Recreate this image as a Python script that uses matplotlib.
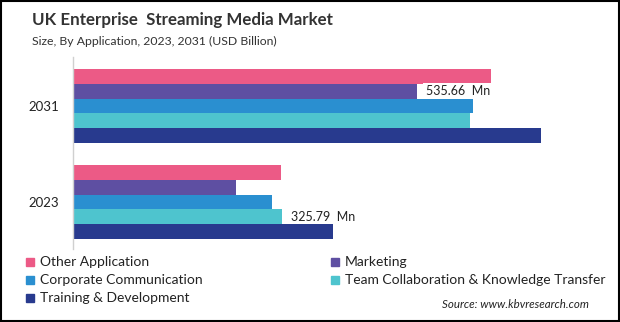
import matplotlib
matplotlib.use("Agg")
import matplotlib.pyplot as plt
from matplotlib.patches import Rectangle

plt.rcParams['font.family'] = ['Lato', 'DejaVu Sans']

years = ["2023", "2031"]
segments = ["Other Application", "Marketing", "Corporate Communication",
            "Team Collaboration & Knowledge Transfer", "Training & Development"]
values_2023 = [324, 255, 310, 325.79, 406]
values_2031 = [652, 535.66, 624, 619, 730]
colors = ["#EC5A86", "#5E4FA2", "#2A8FD0", "#4EC4CE", "#283A8E"]

fig = plt.figure(figsize=(6.2, 3.22), dpi=100)
ax = fig.add_axes([0.1174, 0.2267, 0.85, 0.5963])

bar_h = 0.153
for i, seg in enumerate(segments):
    off = (2 - i) * bar_h
    ax.barh([0 + off, 1 + off], [values_2023[i], values_2031[i]], height=bar_h,
            color=colors[i], label=seg)

# value labels
ax.text(values_2031[1] + 14, 1 + bar_h, "535.66  Mn", va="center", ha="left",
        fontsize=9, color="#222222",
        bbox=dict(facecolor="white", edgecolor="none", pad=1.5))
ax.text(values_2023[3] + 14, 0 - bar_h, "325.79  Mn", va="center", ha="left",
        fontsize=9, color="#222222")

ax.set_xlim(0, 821)
ax.set_ylim(-0.49, 1.51)
ax.set_yticks([0, 1])
ax.set_yticklabels(years, fontsize=9.5, color="#222222")
ax.tick_params(axis="y", length=0, pad=10)
ax.set_xticks([])
for s in ["top", "right", "bottom"]:
    ax.spines[s].set_visible(False)
ax.spines["left"].set_color("#d0d0d0")
ax.spines["left"].set_linewidth(1)

fig.text(32 / 620, 1 - 20 / 322, "UK Enterprise  Streaming Media Market",
         fontsize=12.2, fontweight="bold", color="#333333", va="center")
fig.text(32 / 620, 1 - 41 / 322, "Size, By Application, 2023, 2031 (USD Billion)",
         fontsize=8.8, color="#333333", va="center")

# legend
handles, labels = ax.get_legend_handles_labels()
leg_pos = [(30, 262), (335, 262), (30, 280), (335, 280), (30, 298)]
for (x, y), h, lab in zip(leg_pos, handles, labels):
    fig.patches.append(Rectangle(((x - 4) / 620, 1 - (y + 4) / 322), 8 / 620, 8 / 322,
                                 transform=fig.transFigure, color=h.patches[0].get_facecolor()))
    fig.text((x + 10) / 620, 1 - y / 322, lab, fontsize=10, color="#222222", va="center")

fig.text(589 / 620, 1 - 304 / 322, "Source: www.kbvresearch.com", fontsize=8.3,
         style="italic", color="#222222", ha="right", va="center")

fig.patches.append(Rectangle((0.001, 0.002), 0.997, 0.995, transform=fig.transFigure,
                             fill=False, edgecolor="black", linewidth=1.5))

fig.savefig("out.png", dpi=100)
